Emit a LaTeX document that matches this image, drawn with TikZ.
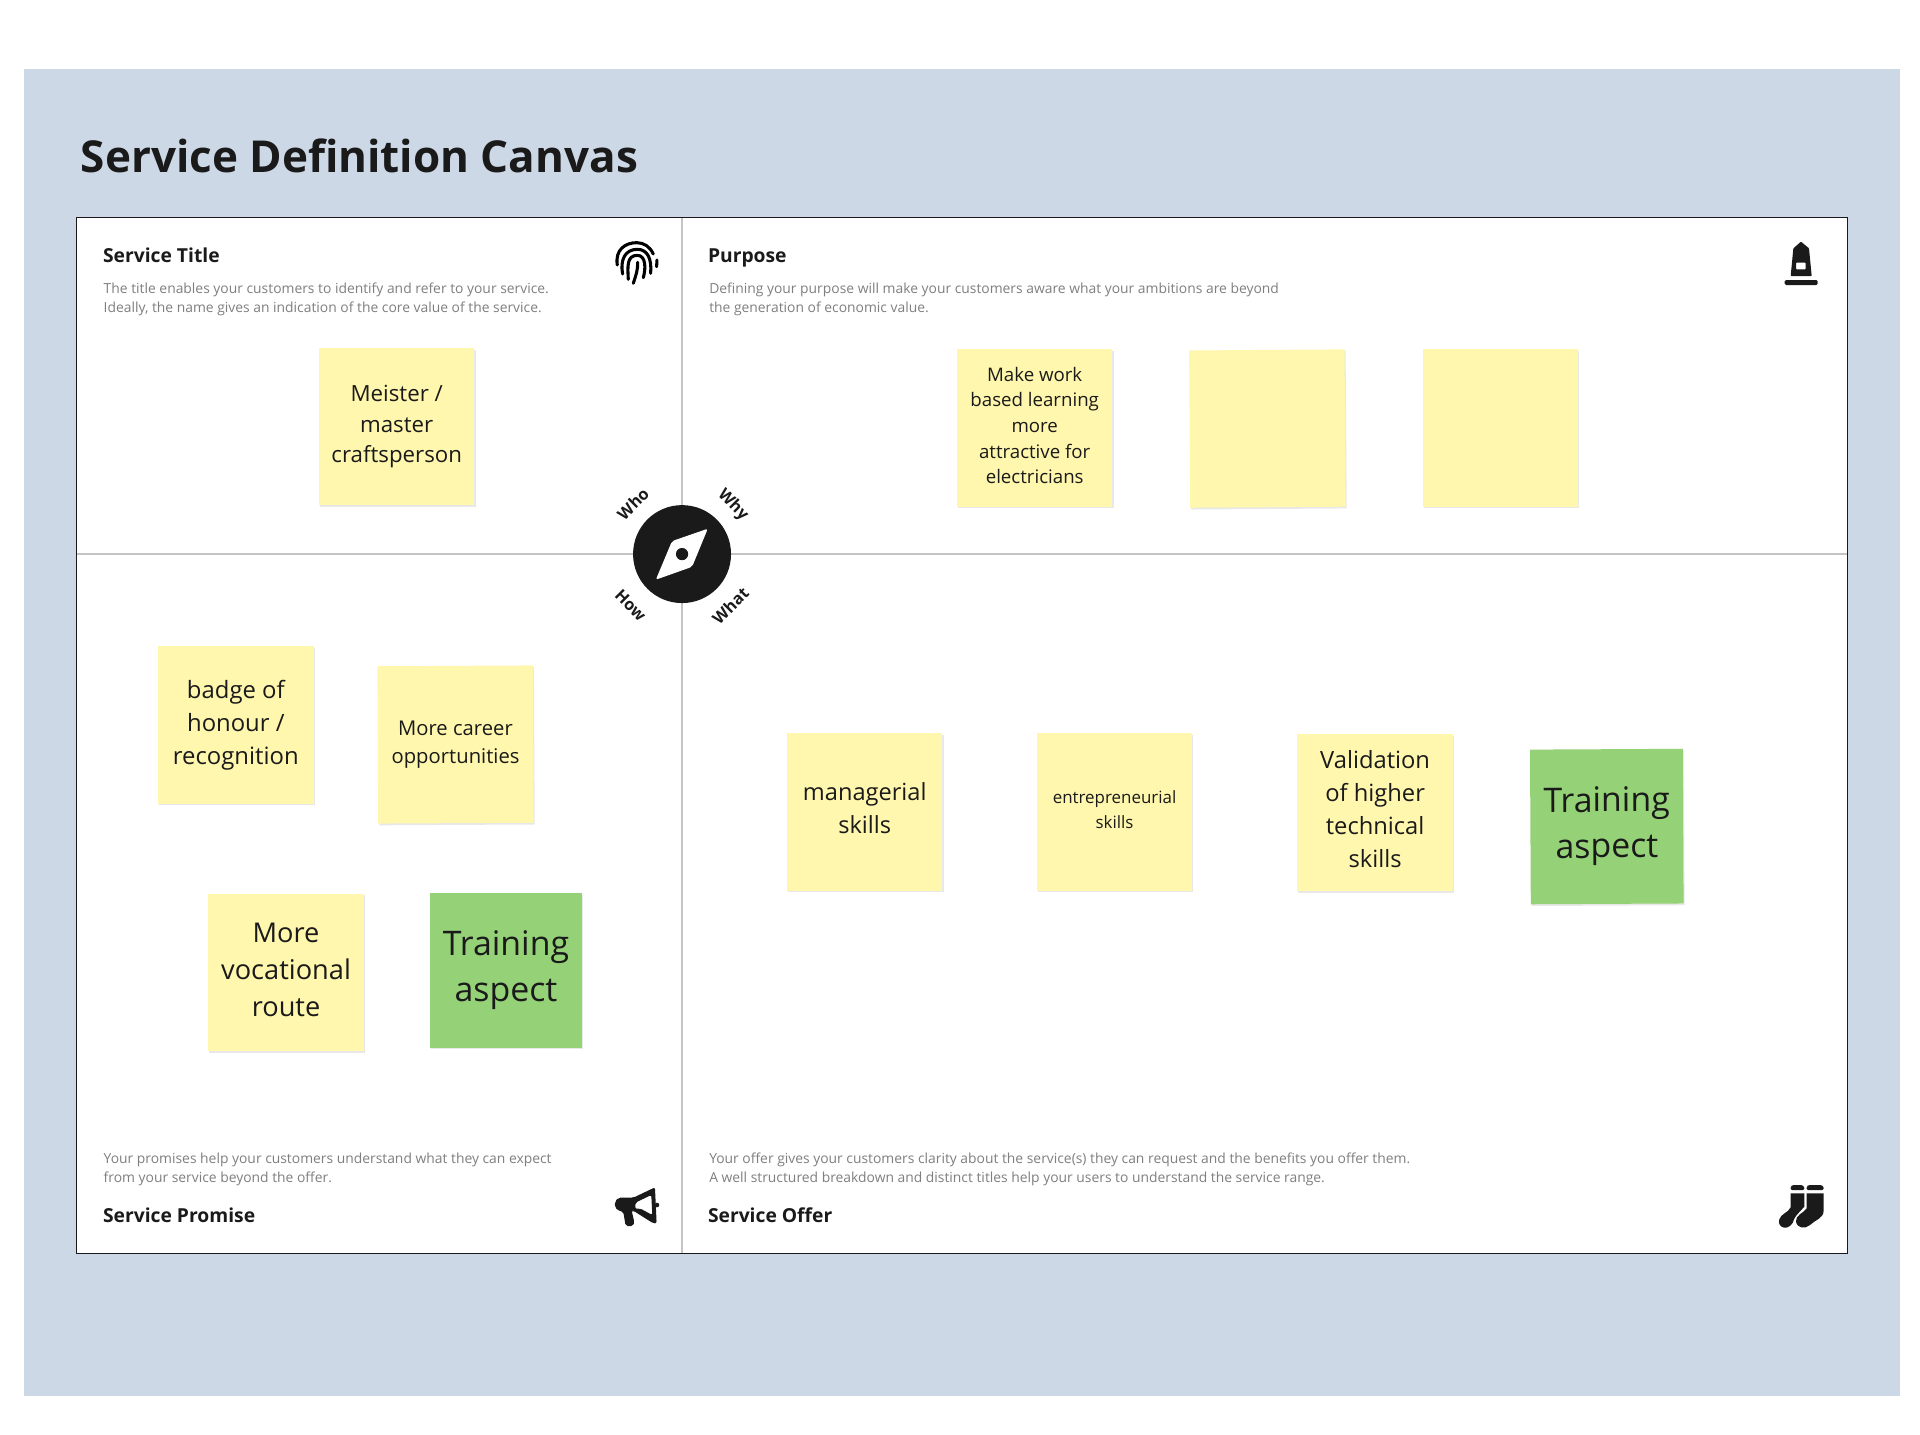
\documentclass[tikz,border=0pt]{standalone}
\usepackage{fontspec}
\setmainfont{Open Sans}
\usetikzlibrary{shadows}
\definecolor{bgblue}{HTML}{CCD8E6}
\definecolor{stickyy}{HTML}{FFF7AD}
\definecolor{stickyg}{HTML}{95D277}
\definecolor{ink}{HTML}{1A1A1A}
\definecolor{descgray}{HTML}{7F7F7F}
\definecolor{rulegray}{HTML}{C4C4C4}
\newcommand{\fs}[2]{\fontsize{#1}{#2}\selectfont}
\newcommand{\liftby}[1]{\rule[-#1]{0pt}{0pt}}
\tikzset{
  stickybase/.style={align=center,text=ink,inner sep=0pt,
    drop shadow={opacity=.18,shadow xshift=.8pt,shadow yshift=-1.3pt}},
  yellowsticky/.style={stickybase,fill=stickyy,minimum width=116.6pt,minimum height=118pt},
  greensticky/.style={stickybase,fill=stickyg,minimum width=114.6pt,minimum height=116pt},
  headtext/.style={anchor=base west,inner sep=0pt,text=ink,font=\bfseries\fs{14.45}{17}},
  desctext/.style={anchor=north west,inner sep=0pt,text=descgray,align=left,font=\fs{10.4}{14.1}},
  whlabel/.style={inner sep=0pt,text=ink,font=\bfseries\fs{12.2}{14}},
  iconscope/.style={scale=.2722},
  fingerline/.style={draw=black,line width=2.3pt,line cap=round,fill=none}
}
\begin{document}
\begin{tikzpicture}[x=0.9184pt,y=-0.9184pt]
\useasboundingbox (0,0) rectangle (1568,1171.9);
\fill[bgblue] (19.3,56) rectangle (1552,1140);
\fill[white] (62.5,177.5) rectangle (1508.5,1023.5);
\draw[rulegray,line width=1.1pt] (557,177.5) -- (557,1023.5);
\draw[rulegray,line width=1.1pt] (62.5,452.5) -- (1508.5,452.5);
\draw[ink,line width=1pt] (62.5,177.5) rectangle (1508.5,1023.5);

\node[anchor=base west,inner sep=0pt,text=ink,font=\bfseries\fs{33}{38}] (title) at (65.8,141) {Service Definition Canvas};

\node[headtext] (h1) at (84,214) {Service Title};
\node[headtext] (h2) at (578,214) {Purpose};
\node[headtext] (h3) at (84,998) {Service Promise};
\node[headtext] (h4) at (578,998) {Service Offer};

\node[desctext] (d1) at (84.5,231) {The title enables your customers to identify and refer to your service.\\Ideally, the name gives an indication of the core value of the service.};
\node[desctext] (d2) at (579,231) {Defining your purpose will make your customers aware what your ambitions are beyond\\the generation of economic value.};
\node[desctext] (d3) at (84.5,941.5) {Your promises help your customers understand what they can expect\\from your service beyond the offer.};
\node[desctext] (d4) at (579,941.5) {Your offer gives your customers clarity about the service(s) they can request and the benefits you offer them.\\A well structured breakdown and distinct titles help your users to understand the service range.};

\node[yellowsticky,font=\fs{16.7}{23}] (s1) at (324,348.5) {Meister /\\master\\craftsperson};
\node[yellowsticky,font=\fs{14}{19.2}] (s2) at (845,349.5) {Make work\\based learning\\more\\attractive for\\electricians\liftby{3.7pt}};
\node[yellowsticky,rotate=.4] (s3) at (1035,350) {};
\node[yellowsticky] (s4) at (1225.5,349.5) {};
\node[yellowsticky,font=\fs{17.9}{24.8}] (s5) at (192.6,592) {badge of\\honour /\\recognition};
\node[yellowsticky,rotate=.3,font=\fs{15.2}{21}] (s6) at (372,608) {More career\\opportunities};
\node[yellowsticky,font=\fs{20.4}{28}] (s7) at (233.6,794) {More\\vocational\\route\liftby{3.7pt}};
\node[greensticky,font=\fs{25.4}{34.5}] (s8) at (413.2,792.5) {Training\\aspect};
\node[yellowsticky,font=\fs{17.7}{24.8}] (s9) at (706.2,663) {managerial\\skills\liftby{5.5pt}};
\node[yellowsticky,font=\fs{12.7}{18.4}] (s10) at (910.2,663) {entrepreneurial\\skills\liftby{3.7pt}};
\node[yellowsticky,font=\fs{17.8}{24.8}] (s11) at (1123,663.5) {Validation\\of higher\\technical\\skills\liftby{5.5pt}};
\node[greensticky,rotate=.3,font=\fs{25.4}{34.5}] (s12) at (1312.2,675) {Training\\aspect};

% compass
\fill[ink] (557,452.5) circle (40);
\fill[white,rounded corners=1.6pt] (578,431.8) -- (548.8,441.9) -- (535.6,473.4) -- (565.2,462.9) -- cycle;
\fill[ink] (557,452.5) circle (5);
\node[whlabel,rotate=45] (who) at (517,411.5) {Who};
\node[whlabel,rotate=-45] (why) at (598.5,412.5) {Why};
\node[whlabel,rotate=-45] (how) at (515,494.5) {How};
\node[whlabel,rotate=45] (what) at (596.5,494.5) {What};

% fingerprint
\begin{scope}[shift={(457.3,171.5)},iconscope]
\draw[fingerline] (172,165) .. controls (165,120) and (195,98) .. (230,98) .. controls (252,98) and (270,110) .. (280,132);
\draw[fingerline] (291,150) -- (290,170);
\draw[fingerline] (188,192) .. controls (180,150) and (195,118) .. (232,118) .. controls (262,118) and (276,145) .. (272,190);
\draw[fingerline] (205,208) .. controls (203,170) and (200,136) .. (232,136) .. controls (258,136) and (258,175) .. (250,203);
\draw[fingerline] (220,220) .. controls (228,195) and (234,180) .. (233,157);
\end{scope}

% monument
\begin{scope}[shift={(1421,171.5)},iconscope]
\fill[ink,even odd rule,rounded corners=.5pt] (152,198) -- (160,115) -- (183,95) -- (207,115) -- (215,198) -- cycle (168,158) rectangle (197,178);
\fill[ink,rounded corners=1pt] (134,210) rectangle (233,225);
\end{scope}

% megaphone
\begin{scope}[shift={(481.8,955.5)},iconscope]
\fill[ink,even odd rule,rounded corners=1.5pt] (75,95) -- (85,83) -- (130,83) -- (195,52) -- (200,160) -- (190,160) -- (130,122) -- (125,122) -- (133,156) -- (130,168) -- (107,168) -- (100,125) -- (85,122) -- (75,112) -- cycle
 (136,98) -- (184,75) -- (187,135) -- (150,115) -- (136,117) -- cycle;
\fill[ink] (201,105) circle[radius=7];
\end{scope}

% socks
\begin{scope}[shift={(1437.3,955.5)},iconscope]
\fill[ink,rounded corners=1pt] (92,60) -- (92,50) -- (97,45) -- (127,45) -- (133,50) -- (133,60) -- cycle;
\fill[ink] (92,70) -- (133,70) -- (133,110) .. controls (120,125) and (108,135) .. (102,148) .. controls (100,162) and (85,176) .. (72,173) .. controls (60,170) and (54,160) .. (58,148) .. controls (62,132) and (85,128) .. (92,112) -- cycle;
\fill[ink,rounded corners=1pt] (140,60) -- (140,50) -- (145,45) -- (185,45) -- (191,50) -- (191,60) -- cycle;
\fill[ink] (140,70) -- (191,70) -- (191,122) .. controls (191,145) and (165,150) .. (150,165) .. controls (135,178) and (112,175) .. (108,155) .. controls (106,135) and (130,130) .. (140,115) -- cycle;
\end{scope}
\end{tikzpicture}
\end{document}
